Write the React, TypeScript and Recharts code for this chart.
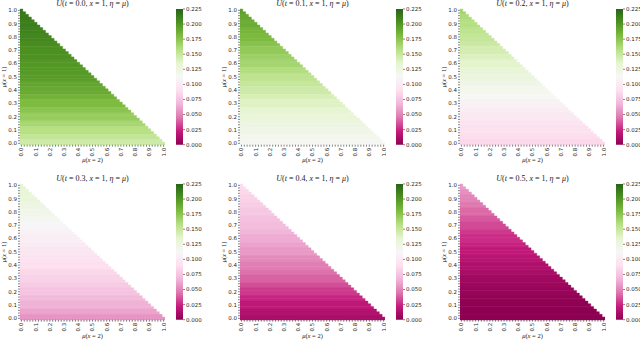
import React from 'react';
import { BarChart, Bar, XAxis, YAxis, Cell } from 'recharts';

// ---- data ----
const TIMES = ['0.0', '0.1', '0.2', '0.3', '0.4', '0.5'];
const TICK_LABELS = ['0.0', '0.1', '0.2', '0.3', '0.4', '0.5', '0.6', '0.7', '0.8', '0.9', '1.0'];
const CB_TICKS = [0, 0.025, 0.05, 0.075, 0.1, 0.125, 0.15, 0.175, 0.2, 0.225];
const CB_MAX = 0.225;

// U values per row, read at μ(x=1) = 0.00, 0.05, ..., 1.00
const U_T00 = [0.147, 0.152, 0.158, 0.164, 0.170, 0.175, 0.180, 0.185, 0.190, 0.193, 0.197, 0.199, 0.200, 0.202, 0.203, 0.205, 0.208, 0.210, 0.212, 0.214, 0.216];
const U_T01 = [0.115, 0.118, 0.122, 0.126, 0.130, 0.134, 0.138, 0.142, 0.147, 0.151, 0.155, 0.160, 0.165, 0.168, 0.172, 0.176, 0.181, 0.184, 0.188, 0.191, 0.195];
const U_T02 = [0.086, 0.089, 0.092, 0.095, 0.099, 0.103, 0.108, 0.113, 0.118, 0.122, 0.127, 0.131, 0.136, 0.140, 0.144, 0.148, 0.152, 0.155, 0.158, 0.161, 0.165];
const U_T03 = [0.056, 0.061, 0.066, 0.070, 0.075, 0.079, 0.083, 0.086, 0.090, 0.093, 0.097, 0.100, 0.104, 0.108, 0.112, 0.116, 0.120, 0.124, 0.128, 0.131, 0.134];
const U_T04 = [0.012, 0.015, 0.020, 0.025, 0.030, 0.035, 0.040, 0.044, 0.048, 0.052, 0.057, 0.060, 0.064, 0.068, 0.071, 0.074, 0.077, 0.080, 0.083, 0.086, 0.089];
const U_T05 = [0.000, 0.000, 0.001, 0.002, 0.004, 0.006, 0.008, 0.011, 0.014, 0.017, 0.020, 0.024, 0.027, 0.030, 0.034, 0.038, 0.042, 0.046, 0.050, 0.054, 0.058];
const PANEL_VALUES = [U_T00, U_T01, U_T02, U_T03, U_T04, U_T05];

// heatmap grid: 51 cells per axis (step 0.02)
const N = 50;
const GRID = Array.from({ length: N + 1 }, (_, k) => k / N);
const ROW_KEYS = Array.from({ length: N + 1 }, (_, k) => N - k); // top row first

// ---- PiYG colormap ----
const PIYG = ['#8e0152', '#c51b7d', '#de77ae', '#f1b6da', '#fde0ef', '#f7f7f7', '#e6f5d0', '#b8e186', '#7fbc41', '#4d9221', '#276419'];
const hex = (h: string) => [1, 3, 5].map((i) => parseInt(h.slice(i, i + 2), 16));
function colorFor(v: number) {
  const t = Math.max(0, Math.min(1, v / CB_MAX)) * 10;
  const i = Math.min(9, Math.floor(t));
  const f = t - i;
  const a = hex(PIYG[i]);
  const b = hex(PIYG[i + 1]);
  const c = a.map((x, j) => Math.round(x + (b[j] - x) * f));
  return `rgb(${c[0]},${c[1]},${c[2]})`;
}

// ---- layout ----
const PLOT_W = 145;
const PLOT_H = 135.7;
const LEFTS = [20, 240, 460];
const TOPS = [8.7, 184.2];
const CB_OFF = 155.5;
const CB_W = 7;
const TOP_M = 12;
const XAX_H = 30;
const YAX_W = 20;
const TICK_COLOR = '#333';
const TICK_FONT = 'DejaVu Sans';
const MATH_FONT = 'Liberation Serif';

const XTick = (props: any) => {
  const { x, y, payload } = props;
  const k = Math.round(payload.value * N);
  if (k % 5 !== 0) return <g />;
  return (
    <g transform={`translate(${x},${y})`}>
      <text transform="rotate(-90)" x={0} y={0} dy="0.35em" textAnchor="end" fontSize={5.5} fontFamily={TICK_FONT} fill="#262626">
        {TICK_LABELS[k / 5]}
      </text>
    </g>
  );
};

const YTick = (props: any) => {
  const { x, y, payload } = props;
  const k = Number(payload.value);
  if (k % 5 !== 0) return <g />;
  return (
    <text x={x} y={y} dy="0.35em" textAnchor="end" fontSize={5.5} fontFamily={TICK_FONT} fill="#262626">
      {TICK_LABELS[k / 5]}
    </text>
  );
};

const CbTick = (props: any) => {
  const { x, y, payload } = props;
  return (
    <text x={x} y={y} dy="0.35em" textAnchor="start" fontSize={5.5} fontFamily={TICK_FONT} fill="#262626">
      {Number(payload.value).toFixed(3)}
    </text>
  );
};

function Panel({ p }: { p: number }) {
  const col = p % 3;
  const row = Math.floor(p / 3);
  const left = LEFTS[col];
  const top = TOPS[row];
  const vals = PANEL_VALUES[p];
  const data = ROW_KEYS.map((k) => ({
    row: k,
    range: [-0.01, (N - k) / N + 0.01],
    v: vals[Math.round((k * 20) / N)],
  }));
  const chartH = TOP_M + PLOT_H + XAX_H;
  const gradId = `piyg-${p}`;
  return (
    <>
      <div style={{ position: 'absolute', left: left - YAX_W, top: top - TOP_M }}>
        <BarChart
          layout="vertical"
          width={YAX_W + PLOT_W + 1}
          height={chartH}
          data={data}
          margin={{ top: TOP_M, right: 1, left: 0, bottom: 0 }}
          barCategoryGap={0}
          barGap={0}
        >
          <XAxis
            type="number"
            domain={[-0.01, 1.01]}
            allowDataOverflow
            ticks={GRID}
            interval={0}
            height={XAX_H}
            tickSize={2}
            tickMargin={1}
            axisLine={false}
            tickLine={{ stroke: TICK_COLOR, strokeWidth: 0.6 }}
            tick={XTick}
          />
          <YAxis
            type="category"
            dataKey="row"
            interval={0}
            width={YAX_W}
            tickSize={2}
            tickMargin={1}
            axisLine={false}
            tickLine={{ stroke: TICK_COLOR, strokeWidth: 0.6 }}
            tick={YTick}
          />
          <Bar dataKey="range" isAnimationActive={false}>
            {data.map((d, i) => (
              <Cell key={i} fill={colorFor(d.v)} stroke={colorFor(d.v)} strokeWidth={0.4} />
            ))}
          </Bar>
        </BarChart>
      </div>
      <div style={{ position: 'absolute', left: left + CB_OFF, top: top - TOP_M }}>
        <BarChart
          width={CB_W + 25}
          height={chartH}
          data={[{ name: 'cb', v: CB_MAX }]}
          margin={{ top: TOP_M, right: 0, left: 0, bottom: XAX_H }}
          barCategoryGap={0}
        >
          <defs>
            <linearGradient id={gradId} x1="0" y1="1" x2="0" y2="0">
              {PIYG.map((c, i) => (
                <stop key={i} offset={`${i * 10}%`} stopColor={c} />
              ))}
            </linearGradient>
          </defs>
          <XAxis dataKey="name" hide />
          <YAxis
            orientation="right"
            type="number"
            domain={[0, CB_MAX]}
            ticks={CB_TICKS}
            interval={0}
            width={25}
            tickSize={2}
            tickMargin={1}
            axisLine={false}
            tickLine={{ stroke: TICK_COLOR, strokeWidth: 0.6 }}
            tick={CbTick}
          />
          <Bar dataKey="v" fill={`url(#${gradId})`} isAnimationActive={false} />
        </BarChart>
      </div>
      <div
        style={{
          position: 'absolute',
          left: left + PLOT_W / 2 - 60,
          width: 120,
          top: top - 10,
          textAlign: 'center',
          fontFamily: MATH_FONT,
          fontSize: 8,
          lineHeight: '10px',
          color: '#222',
          whiteSpace: 'nowrap',
        }}
      >
        <i>U</i>(<i>t</i> = {TIMES[p]}, <i>x</i> = 1, <i>η</i> = <i>μ</i>)
      </div>
      <div
        style={{
          position: 'absolute',
          left: left + PLOT_W / 2 - 40,
          width: 80,
          top: top + PLOT_H + 12,
          textAlign: 'center',
          fontFamily: MATH_FONT,
          fontSize: 6.5,
          lineHeight: '8px',
          color: '#222',
          whiteSpace: 'nowrap',
        }}
      >
        <i>μ</i>(<i>x</i> = 2)
      </div>
      <div
        style={{
          position: 'absolute',
          left: left - 16 - 40,
          width: 80,
          top: top + PLOT_H / 2 - 4,
          textAlign: 'center',
          fontFamily: MATH_FONT,
          fontSize: 6.5,
          lineHeight: '8px',
          color: '#222',
          whiteSpace: 'nowrap',
          transform: 'rotate(-90deg)',
        }}
      >
        <i>μ</i>(<i>x</i> = 1)
      </div>
    </>
  );
}

export default function App() {
  return (
    <div style={{ position: 'fixed', left: 0, top: 0, width: 640, height: 340, background: '#fff', overflow: 'hidden' }}>
      {[0, 1, 2, 3, 4, 5].map((p) => (
        <Panel key={p} p={p} />
      ))}
    </div>
  );
}
